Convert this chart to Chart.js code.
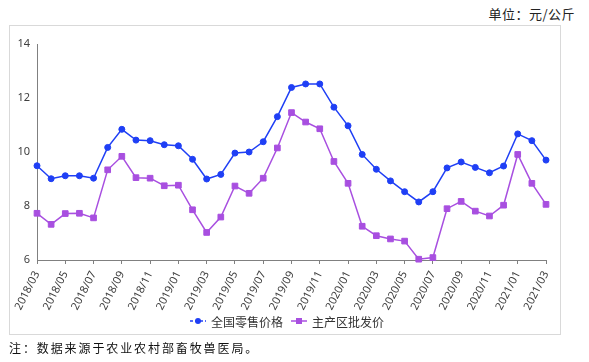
<!DOCTYPE html>
<html><head><meta charset="utf-8">
<script src="https://cdn.jsdelivr.net/npm/chart.js@4"></script>
<style>
html,body{margin:0;padding:0;background:#fff;}
#wrap{position:relative;width:589px;height:362px;overflow:hidden;font-family:"Noto Sans CJK SC","Noto Sans",sans-serif;}
#box{position:absolute;left:9px;top:25px;width:552px;height:310px;border:1px solid #d9d9d9;box-sizing:border-box;}
#cv{position:absolute;left:0;top:0;}
#unit{position:absolute;right:14px;top:4px;font-size:13px;color:#222;letter-spacing:0.5px;}
#note{position:absolute;left:9px;top:339px;font-size:12px;color:#111;letter-spacing:1.9px;}
#legend{position:absolute;left:0;width:574px;top:312px;text-align:center;font-size:12px;color:#333;white-space:nowrap;}
#legend span.item{display:inline-flex;align-items:center;margin:0 4px;}
#legend canvas{margin-right:5px;}
</style></head>
<body><div id="wrap">
<div id="box"></div>
<div id="unit">单位：元/公斤</div>
<canvas id="cv" width="589" height="362"></canvas>
<div id="legend"></div>
<div id="note">注：数据来源于农业农村部畜牧兽医局。</div>
</div>
<script>
const months = ["2018/03","2018/04","2018/05","2018/06","2018/07","2018/08","2018/09","2018/10","2018/11","2018/12",
"2019/01","2019/02","2019/03","2019/04","2019/05","2019/06","2019/07","2019/08","2019/09","2019/10","2019/11","2019/12",
"2020/01","2020/02","2020/03","2020/04","2020/05","2020/06","2020/07","2020/08","2020/09","2020/10","2020/11","2020/12",
"2021/01","2021/02","2021/03"];
const retailPrice = [9.49,9.01,9.12,9.12,9.03,10.17,10.84,10.44,10.42,10.27,10.23,9.73,9.00,9.17,9.96,10.00,10.38,11.31,12.39,12.52,12.52,11.66,10.97,9.91,9.36,8.93,8.53,8.15,8.53,9.41,9.63,9.43,9.23,9.48,10.67,10.42,9.70];
const wholesalePrice = [7.73,7.32,7.72,7.73,7.56,9.34,9.84,9.05,9.03,8.75,8.77,7.86,7.02,7.59,8.74,8.47,9.03,10.15,11.46,11.11,10.86,9.65,8.84,7.25,6.90,6.78,6.70,6.03,6.09,7.90,8.17,7.81,7.63,8.03,9.91,8.84,8.06];
const seriesNames = ["全国零售价格","主产区批发价"];
const yTicks = [6,8,10,12,14];

const BLUE = "#1f3ff5", PURPLE = "#a84fe0";
const tickFont = {family:"'Noto Sans','Liberation Sans',sans-serif", size:11};

new Chart(document.getElementById('cv'), {
  type:'line',
  data:{labels:months, datasets:[
    {label:seriesNames[0], data:retailPrice, borderColor:BLUE, backgroundColor:BLUE, borderWidth:1.5,
     pointStyle:'circle', pointRadius:3, pointBorderWidth:1, tension:0, clip:false},
    {label:seriesNames[1], data:wholesalePrice, borderColor:PURPLE, backgroundColor:PURPLE, borderWidth:1.5,
     pointStyle:'rect', pointRadius:4, pointBorderWidth:1, tension:0, clip:false}
  ]},
  options:{
    responsive:false, animation:false,
    layout:{padding:{left:9,top:44,right:43,bottom:0}},
    plugins:{legend:{display:false}, tooltip:{enabled:false}},
    scales:{
      x:{
        grid:{display:true, drawOnChartArea:false, drawTicks:true, tickLength:4, color:'#808080'},
        border:{display:true, color:'#808080', width:1},
        ticks:{autoSkip:false, maxRotation:63, minRotation:63, padding:5, color:'#404040', font:tickFont,
          callback:function(v,i){ return i%2===0 ? months[i] : null; }},
        afterFit:function(s){ s.height = 102; }
      },
      y:{
        min:6, max:14,
        afterBuildTicks:function(s){ s.ticks = yTicks.map(v=>({value:v})); },
        grid:{display:true, drawOnChartArea:false, drawTicks:false},
        border:{display:true, color:'#808080', width:1},
        ticks:{padding:7, color:'#404040', font:tickFont},
        afterFit:function(s){ s.width = 28; }
      }
    }
  }
});

// HTML legend
const legend = document.getElementById('legend');
[[seriesNames[0],BLUE,'circle'],[seriesNames[1],PURPLE,'rect']].forEach(([name,col,shape])=>{
  const item = document.createElement('span'); item.className='item';
  const c = document.createElement('canvas'); c.width=16; c.height=10;
  const g = c.getContext('2d');
  g.strokeStyle=col; g.lineWidth=1.5;
  if(shape==='circle'){ g.setLineDash([3,2]); }
  g.beginPath(); g.moveTo(0,5); g.lineTo(16,5); g.stroke();
  g.fillStyle=col;
  if(shape==='circle'){ g.beginPath(); g.arc(8,5,3,0,Math.PI*2); g.fill(); }
  else { g.fillRect(5,2,6,6); }
  item.appendChild(c);
  const t = document.createElement('span'); t.textContent=name; item.appendChild(t);
  legend.appendChild(item);
});
</script>
</body></html>
